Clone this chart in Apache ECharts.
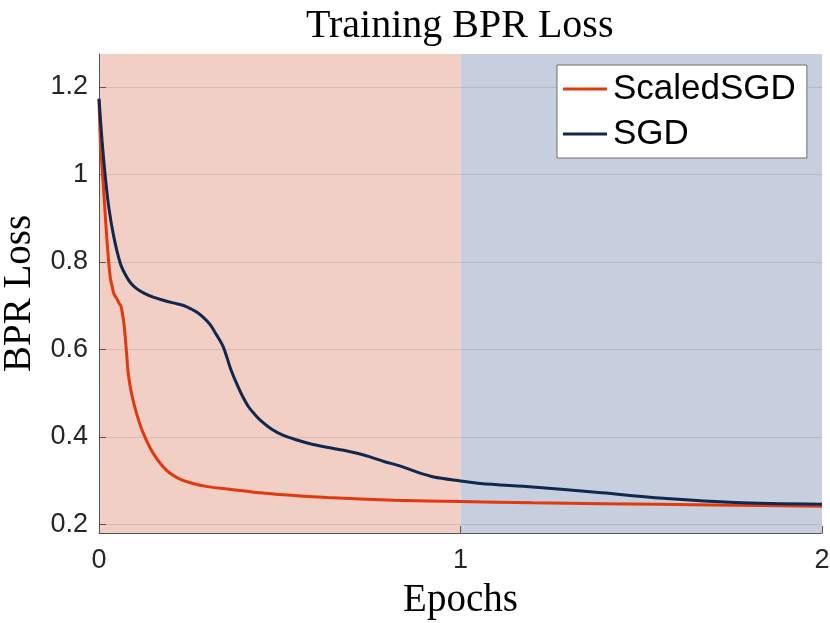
<!DOCTYPE html>
<html>
<head>
<meta charset="utf-8">
<script src="https://cdn.jsdelivr.net/npm/echarts@6/dist/echarts.min.js"></script>
<style>
html,body{margin:0;padding:0;background:#fff;}
#chart{width:830px;height:623px;}
</style>
</head>
<body>
<div id="chart"></div>
<script>
// ---- data ----
var sgdX = [0, 0.0083, 0.0175, 0.027, 0.041, 0.059, 0.072, 0.087, 0.105, 0.123, 0.15, 0.178, 0.205, 0.234, 0.255, 0.27, 0.29, 0.307, 0.325, 0.344, 0.363, 0.38, 0.395, 0.414, 0.43, 0.446, 0.478, 0.51, 0.55, 0.584, 0.63, 0.677, 0.72, 0.75, 0.79, 0.834, 0.88, 0.926, 1.0, 1.055, 1.2, 1.39, 1.57, 1.76, 2.0];
var sgdY = [1.173, 1.078, 0.994, 0.925, 0.857, 0.796, 0.772, 0.752, 0.738, 0.729, 0.719, 0.712, 0.706, 0.70, 0.692, 0.685, 0.672, 0.657, 0.633, 0.605, 0.558, 0.523, 0.496, 0.468, 0.452, 0.438, 0.417, 0.403, 0.392, 0.384, 0.376, 0.369, 0.361, 0.354, 0.343, 0.333, 0.319, 0.308, 0.299, 0.293, 0.285, 0.272, 0.259, 0.25, 0.246];
var scaledX = [0, 0.0037, 0.008, 0.013, 0.022, 0.031, 0.036, 0.041, 0.049, 0.055, 0.061, 0.065, 0.069, 0.075, 0.081, 0.09, 0.104, 0.123, 0.15, 0.187, 0.224, 0.26, 0.3, 0.35, 0.404, 0.446, 0.5, 0.631, 0.815, 1.0, 1.2, 1.39, 1.7, 2.0];
var scaledY = [1.17, 1.078, 1.02, 0.963, 0.849, 0.765, 0.745, 0.727, 0.716, 0.706, 0.698, 0.68, 0.659, 0.605, 0.544, 0.499, 0.453, 0.407, 0.362, 0.323, 0.303, 0.293, 0.286, 0.281, 0.276, 0.272, 0.268, 0.261, 0.255, 0.252, 0.249, 0.247, 0.244, 0.241];
var yTicks = [0.2, 0.4, 0.6, 0.8, 1.0, 1.2];
var xTicks = [0, 1, 2];
var seriesNames = ['ScaledSGD', 'SGD'];
var titleText = 'Training BPR Loss';
var xName = 'Epochs';
var yName = 'BPR Loss';

function pairs(xs, ys) { return xs.map(function (x, i) { return [x, ys[i]]; }); }

var chart = echarts.init(document.getElementById('chart'), null, {renderer: 'canvas'});
var serif = '"Liberation Serif", "DejaVu Serif", serif';
var sans = '"Liberation Sans", Arial, sans-serif';
chart.setOption({
  animation: false,
  backgroundColor: '#ffffff',
  title: {
    text: titleText,
    left: 306, top: 6, padding: 0,
    textStyle: {fontFamily: serif, fontSize: 40, fontWeight: 'normal', color: '#000'}
  },
  legend: {
    data: seriesNames,
    orient: 'vertical',
    left: 557, top: 65,
    padding: [4, 11, 4, 6],
    backgroundColor: '#ffffff',
    borderColor: '#6e6e6e',
    borderWidth: 1,
    borderRadius: 0,
    icon: 'rect',
    itemWidth: 44,
    itemHeight: 3,
    itemGap: 5,
    textStyle: {fontFamily: sans, fontSize: 35, color: '#000', lineHeight: 40, padding: [0, 0, 0, 1]}
  },
  grid: {left: 99, right: 8, top: 54, bottom: 90, containLabel: false, outerBoundsMode: 'none'},
  xAxis: {
    type: 'value', min: 0, max: 2, interval: 1, z: 0,
    name: xName, nameLocation: 'middle', nameGap: 48,
    nameTextStyle: {fontFamily: serif, fontSize: 39, color: '#000'},
    axisLine: {show: true, lineStyle: {color: '#555', width: 1}},
    axisTick: {show: true, inside: true, length: 7, lineStyle: {color: '#555'}},
    axisLabel: {fontFamily: sans, fontSize: 27, color: '#262626', margin: 14,
      formatter: function (v) { return String(v); }},
    splitLine: {show: false},
    splitArea: {show: true, areaStyle: {color: ['#F1CFC5', '#C7CEDD']}}
  },
  yAxis: {
    type: 'value', min: 0.18, max: 1.275, z: 1,
    name: yName, nameLocation: 'middle', nameGap: 58,
    nameTextStyle: {fontFamily: serif, fontSize: 39, color: '#000'},
    axisLine: {show: true, lineStyle: {color: '#555', width: 1}},
    axisTick: {show: true, inside: true, length: 7, lineStyle: {color: '#555'}, customValues: yTicks},
    axisLabel: {fontFamily: sans, fontSize: 27, color: '#262626', margin: 11, customValues: yTicks,
      formatter: function (v) { return String(Math.round(v * 10) / 10); }},
    splitLine: {show: true, lineStyle: {color: 'rgba(60,40,40,0.13)', width: 1}}
  },
  series: [
    {
      name: seriesNames[0], type: 'line', data: pairs(scaledX, scaledY),
      showSymbol: false, smooth: 0.3, z: 3,
      lineStyle: {color: '#E2380D', width: 3}, itemStyle: {color: '#E2380D'}
    },
    {
      name: seriesNames[1], type: 'line', data: pairs(sgdX, sgdY),
      showSymbol: false, smooth: 0.3, z: 4,
      lineStyle: {color: '#10284F', width: 3}, itemStyle: {color: '#10284F'}
    }
  ]
});
</script>
</body>
</html>
